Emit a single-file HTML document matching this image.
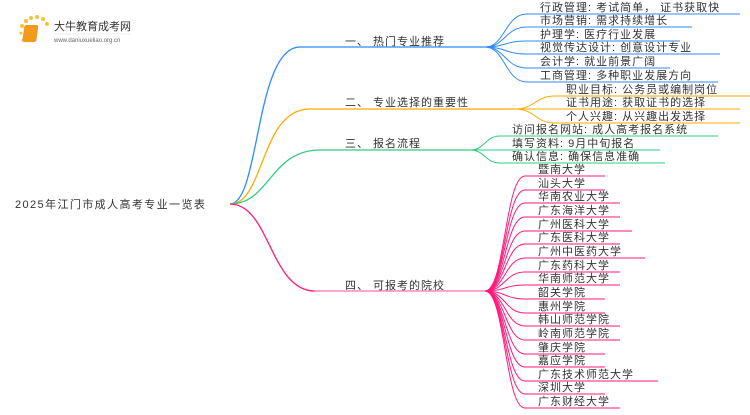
<!DOCTYPE html>
<html><head><meta charset="utf-8"><style>
body{margin:0;background:#fff;width:750px;height:410px;overflow:hidden}
svg text{font-family:"Liberation Sans","Noto Sans CJK SC",sans-serif;font-size:11px;letter-spacing:1px;fill:#333}
</style></head><body>
<svg width="750" height="410" viewBox="0 0 750 410" xmlns="http://www.w3.org/2000/svg">
<g>
<circle cx="22" cy="26" r="2" fill="#f7c23a"/><circle cx="26" cy="21" r="2" fill="#f7c23a"/><circle cx="31" cy="18" r="2" fill="#f7c23a"/><circle cx="37" cy="17" r="2" fill="#f7c23a"/><circle cx="43" cy="19" r="2" fill="#f7c23a"/><circle cx="47" cy="24" r="2" fill="#f7c23a"/><circle cx="21" cy="33" r="1.5" fill="#f7c23a"/><circle cx="23" cy="40" r="1.5" fill="#f7c23a"/>
<rect x="28" y="25" width="14" height="17" rx="2" fill="#f39a1c" transform="skewX(-8)"/>
<text x="54" y="30" style="font-size:11px;letter-spacing:0">大牛教育成考网</text>
<text x="54" y="42" style="font-size:6px;fill:#666;letter-spacing:0">www.daniuxueliao.org.cn</text>
<line x1="54" y1="34" x2="130" y2="34" stroke="#ddd" stroke-width="0.6"/>
</g>
<text x="15" y="208" style="letter-spacing:1.4px">2025年江门市成人高考专业一览表</text>
<g fill="none" stroke-width="1.3">
<path d="M230 204 C260 204 255 47 300 47 L485 47" stroke="#2f8bff"/>
<path d="M230 204 C265 204 260 109 310 109 L515 109" stroke="#ffaa00"/>
<path d="M230 204 C270 204 270 150 320 150 L470 150" stroke="#2ecc80"/>
<path d="M230 204 C270 204 270 291 315 291" stroke="#ff1a7a"/>
<line x1="315" y1="291" x2="485" y2="291" stroke="#ff88bb" stroke-width="1.5"/>
</g>
<text x="345" y="45">一、 热门专业推荐</text>
<text x="345" y="106">二、 专业选择的重要性</text>
<text x="345" y="147">三、 报名流程</text>
<text x="345" y="289">四、 可报考的院校</text>
<g fill="none" stroke="#2f8bff" stroke-width="1">
<path d="M485 47 C505 47 505 14 527 14 L740 14"/>
<path d="M485 47 C505 47 505 27 527 27 L692 27"/>
<path d="M485 47 C505 47 505 41 527 41 L680 41"/>
<path d="M485 47 C505 47 505 54 527 54 L720 54"/>
<path d="M485 47 C505 47 505 68 527 68 L670 68"/>
<path d="M485 47 C505 47 505 82 527 82 L718 82"/>
</g>
<g>
<text x="540" y="11">行政管理: 考试简单， 证书获取快</text>
<text x="540" y="24">市场营销: 需求持续增长</text>
<text x="540" y="38">护理学: 医疗行业发展</text>
<text x="540" y="51">视觉传达设计: 创意设计专业</text>
<text x="540" y="65">会计学: 就业前景广阔</text>
<text x="540" y="79">工商管理: 多种职业发展方向</text>
<text x="566" y="93">职业目标: 公务员或编制岗位</text>
<text x="566" y="106">证书用途: 获取证书的选择</text>
<text x="566" y="120">个人兴趣: 从兴趣出发选择</text>
<text x="512" y="133">访问报名网站: 成人高考报名系统</text>
<text x="512" y="147">填写资料: 9月中旬报名</text>
<text x="512" y="160">确认信息: 确保信息准确</text>
<text x="538" y="173">暨南大学</text>
<text x="538" y="187">汕头大学</text>
<text x="538" y="200">华南农业大学</text>
<text x="538" y="214">广东海洋大学</text>
<text x="538" y="228">广州医科大学</text>
<text x="538" y="241">广东医科大学</text>
<text x="538" y="255">广州中医药大学</text>
<text x="538" y="269">广东药科大学</text>
<text x="538" y="282">华南师范大学</text>
<text x="538" y="296">韶关学院</text>
<text x="538" y="310">惠州学院</text>
<text x="538" y="323">韩山师范学院</text>
<text x="538" y="337">岭南师范学院</text>
<text x="538" y="351">肇庆学院</text>
<text x="538" y="364">嘉应学院</text>
<text x="538" y="378">广东技术师范大学</text>
<text x="538" y="391">深圳大学</text>
<text x="538" y="405">广东财经大学</text>
</g>
<g fill="none" stroke="#ffaa00" stroke-width="1">
<path d="M515 109 C535 109 535 96 555 96 L750 96"/>
<path d="M515 109 L740 109"/>
<path d="M515 109 C535 109 535 123 555 123 L740 123"/>
</g>
<g fill="none" stroke="#2ecc80" stroke-width="1">
<path d="M470 150 C485 150 485 136 500 136 L718 136"/>
<path d="M470 150 L660 150"/>
<path d="M470 150 C485 150 485 163 500 163 L665 163"/>
</g>
<g fill="none" stroke="#ff1a7a" stroke-width="1">
<path d="M485 291 C505 291 505 176 525 176 L605 176"/>
<path d="M485 291 C505 291 505 190 525 190 L605 190"/>
<path d="M485 291 C505 291 505 203 525 203 L620 203"/>
<path d="M485 291 C505 291 505 217 525 217 L620 217"/>
<path d="M485 291 C505 291 505 231 525 231 L632 231"/>
<path d="M485 291 C505 291 505 244 525 244 L620 244"/>
<path d="M485 291 C505 291 505 258 525 258 L645 258"/>
<path d="M485 291 C505 291 505 272 525 272 L620 272"/>
<path d="M485 291 C505 291 505 285 525 285 L620 285"/>
<path d="M485 291 C505 291 505 299 525 299 L605 299"/>
<path d="M485 291 C505 291 505 313 525 313 L605 313"/>
<path d="M485 291 C505 291 505 326 525 326 L620 326"/>
<path d="M485 291 C505 291 505 340 525 340 L620 340"/>
<path d="M485 291 C505 291 505 354 525 354 L605 354"/>
<path d="M485 291 C505 291 505 367 525 367 L605 367"/>
<path d="M485 291 C505 291 505 381 525 381 L658 381"/>
<path d="M485 291 C505 291 505 394 525 394 L605 394"/>
<path d="M485 291 C505 291 505 408 525 408 L620 408"/>
</g>
</svg>
</body></html>
